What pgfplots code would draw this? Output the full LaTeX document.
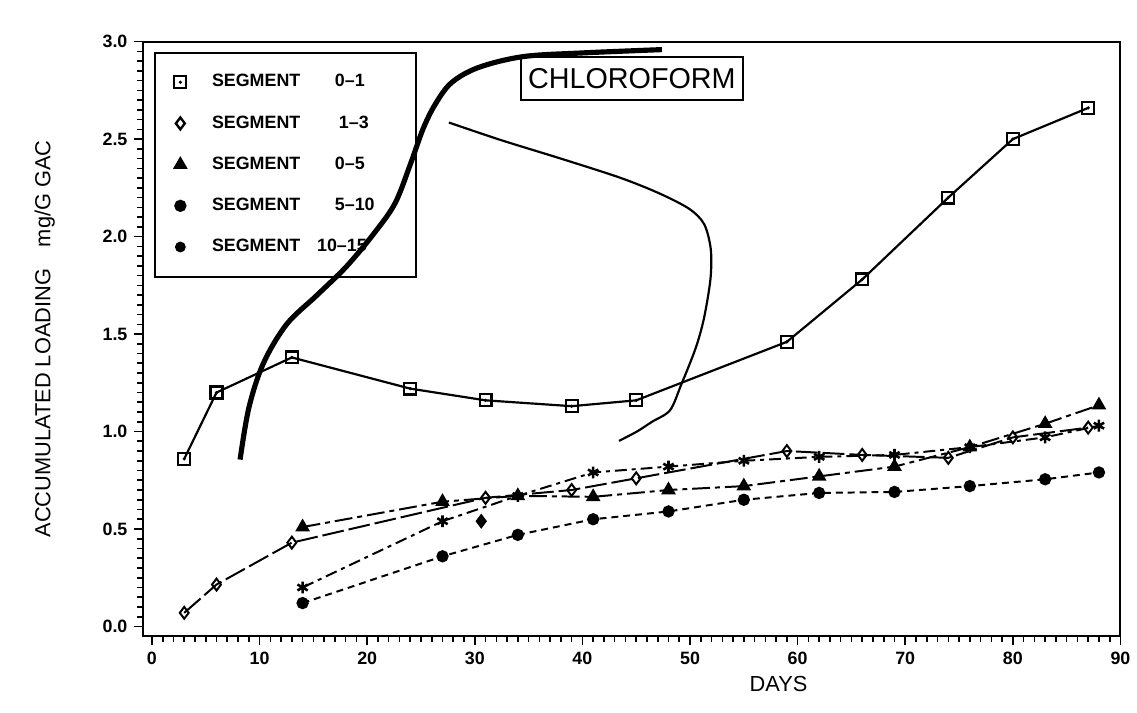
\documentclass[border=0pt]{standalone}
\usepackage{fontspec}
\setmainfont{Liberation Sans}
\usepackage{pgfplots}
\usepackage{pgfplotstable}
\pgfplotsset{compat=1.18}
\usetikzlibrary{plotmarks}

\pgfdeclareplotmark{sqdot}{%
  \pgfpathrectangle{\pgfpoint{-\pgfplotmarksize}{-\pgfplotmarksize}}{\pgfpoint{2\pgfplotmarksize}{2\pgfplotmarksize}}%
  \pgfusepathqstroke
  \pgfpathcircle{\pgfpointorigin}{0.3\pgfplotmarksize}%
  \pgfusepathqfill}

% SEGMENT 0-1
\pgfplotstableread{
x y
3 0.86
6 1.20
13 1.38
24 1.22
31 1.16
39 1.13
45 1.16
59 1.46
66 1.78
74 2.20
80 2.50
87 2.66
}\segA
% SEGMENT 1-3
\pgfplotstableread{
x y
3 0.07
6 0.215
13 0.43
31 0.66
39 0.70
45 0.76
59 0.90
66 0.88
74 0.865
80 0.97
87 1.02
}\segB
% SEGMENT 0-5
\pgfplotstableread{
x y
14 0.51
27 0.64
34 0.67
41 0.665
48 0.70
55 0.72
62 0.77
69 0.82
76 0.92
83 1.04
88 1.135
}\segC
% SEGMENT 5-10
\pgfplotstableread{
x y
14 0.20
27 0.54
34 0.67
41 0.79
48 0.82
55 0.85
62 0.87
69 0.88
76 0.92
83 0.97
88 1.03
}\segD
% SEGMENT 10-15
\pgfplotstableread{
x y
14 0.12
27 0.36
34 0.47
41 0.55
48 0.59
55 0.65
62 0.685
69 0.69
76 0.72
83 0.755
88 0.79
}\segE

\begin{document}
\begin{tikzpicture}
\begin{axis}[
  scale only axis, width=493pt, height=300pt,
  xmin=-0.8, xmax=90, ymin=-0.05, ymax=3.0,
  axis line style={line width=1pt},
  xtick={0,10,...,90}, ytick={0,0.5,1,1.5,2,2.5,3},
  minor x tick num=9, minor y tick num=9,
  xminorticks=true, yminorticks=true,
  tick pos=left, tick align=outside,
  major tick length=4.5pt, minor tick length=3pt,
  every major tick/.style={black, line width=0.8pt},
  every minor tick/.style={black, line width=0.8pt},
  yticklabel style={/pgf/number format/.cd, fixed, fixed zerofill, precision=1},
  ticklabel style={font=\fontsize{9}{10}\selectfont\bfseries},
  xlabel={DAYS},
  ylabel={ACCUMULATED LOADING\quad mg/G GAC},
  label style={font=\fontsize{11}{13}\selectfont},
  xlabel style={at={(axis description cs:0.65,-0.08)}, anchor=center},
  ylabel style={at={(axis description cs:-0.101,0.5)}, anchor=center},
  clip=false,
  legend style={at={(axis description cs:0.0105,0.983)}, anchor=north west,
    draw=black, fill=none, line width=1pt, font=\fontsize{9}{10}\selectfont\bfseries,
    row sep=9pt, inner xsep=10pt, inner ysep=9pt,
    cells={anchor=west},
    /tikz/every odd column/.append style={column sep=11pt}},
  legend cell align=left,
  /pgf/number format/assume math mode=true,
]
% bounding box matching the reference frame
\path[draw=none] (rel axis cs:-0.1467,-0.128) rectangle (rel axis cs:1.0064,1.07);

\addplot[line width=1.1pt, mark=sqdot, mark size=3pt, mark options={solid, fill=black}, forget plot] table {\segA};
\addplot[line width=1pt, dash pattern=on 11pt off 2.5pt, mark=diamond, mark size=3pt, mark options={solid, fill=white, line width=1pt}, forget plot] table {\segB};
\addplot[line width=1pt, dash pattern=on 9pt off 2.5pt on 2.5pt off 2.5pt, mark=triangle*, mark size=3.3pt, mark options={solid}, forget plot] table {\segC};
\addplot[line width=1pt, dash pattern=on 6pt off 2.5pt on 2pt off 2.5pt, mark=asterisk, mark size=3pt, mark options={solid, line width=1.3pt}, forget plot] table {\segD};
\addplot[line width=1pt, dash pattern=on 3.5pt off 2.5pt, mark=*, mark size=2.6pt, mark options={solid}, forget plot] table {\segE};
% isolated marker
\addplot[only marks, mark=diamond*, mark size=3.5pt, forget plot] coordinates {(30.6,0.54)};

% handwritten annotation strokes
\addplot[line width=2.6pt, smooth, tension=0.55, forget plot] coordinates {
(8.19,0.856) (9.0,1.12) (10.34,1.348) (12.5,1.549) (15.31,1.698) (18.1,1.848)
(20.73,2.023) (22.61,2.173) (24.04,2.375) (25.19,2.552) (26.32,2.678)
(27.83,2.789) (30.33,2.867) (34.49,2.923) (40.02,2.942) (47.39,2.959)};
\addplot[line width=1.1pt, smooth, tension=0.5, forget plot] coordinates {
(27.59,2.585) (32.54,2.493) (38.05,2.399) (43.55,2.301) (47.21,2.22)
(49.96,2.141) (51.32,2.063) (51.93,1.935) (51.9,1.782) (51.29,1.579)
(50.52,1.427) (49.18,1.24) (48.14,1.109) (46.47,1.05) (45.07,1.0) (43.4,0.952)};

\node[draw, line width=0.9pt, minimum width=112pt, minimum height=21.5pt, inner sep=0pt,
  font=\fontsize{14.5}{16}\selectfont] at (axis cs:44.6,2.81) {CHLOROFORM};

\addlegendimage{only marks, mark=sqdot, mark size=3pt, line width=1pt}
\addlegendentry{\makebox[62pt][l]{SEGMENT}\makebox[29pt][l]{0--1}}
\addlegendimage{only marks, mark=diamond, mark size=3pt, line width=1.2pt}
\addlegendentry{\makebox[64pt][l]{SEGMENT}\makebox[27pt][l]{1--3}}
\addlegendimage{only marks, mark=triangle*, mark size=3.3pt}
\addlegendentry{\makebox[62pt][l]{SEGMENT}\makebox[29pt][l]{0--5}}
\addlegendimage{only marks, mark=*, mark size=2.6pt}
\addlegendentry{\makebox[62pt][l]{SEGMENT}\makebox[29pt][l]{5--10}}
\addlegendimage{only marks, mark=*, mark size=2.2pt}
\addlegendentry{\makebox[53pt][l]{SEGMENT}\makebox[38pt][l]{10--15}}
\end{axis}
\end{tikzpicture}
\end{document}
